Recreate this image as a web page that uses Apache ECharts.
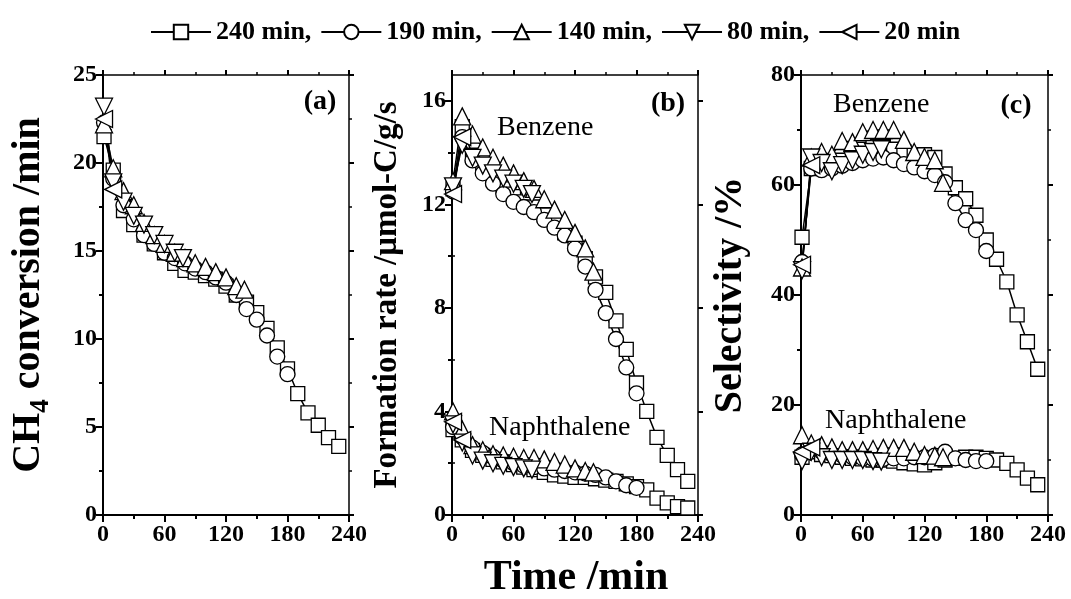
<!DOCTYPE html>
<html>
<head>
<meta charset="utf-8">
<script src="https://cdn.jsdelivr.net/npm/echarts@6/dist/echarts.min.js"></script>
<style>
  html, body { margin: 0; padding: 0; background: #fff; }
  #chart { width: 1071px; height: 599px; }
</style>
</head>
<body>
<div id="chart"></div>
<script>
// Reaction time on stream (min) for each run length
const runNames = ['240 min', '190 min', '140 min', '80 min', '20 min'];
const t240 = [1, 10, 20, 30, 40, 50, 60, 70, 80, 90, 100, 110, 120, 130, 140, 150, 160, 170, 180, 190, 200, 210, 220, 230];
const t190 = [1, 10, 20, 30, 40, 50, 60, 70, 80, 90, 100, 110, 120, 130, 140, 150, 160, 170, 180];
const t140 = [1, 10, 20, 30, 40, 50, 60, 70, 80, 90, 100, 110, 120, 130, 138];
const t80 = [1, 10, 20, 30, 40, 50, 60, 70, 78];
const t20 = [1, 10];

// (a) CH4 conversion
const conv240 = [21.5, 19.6, 17.3, 16.5, 15.9, 15.4, 14.9, 14.3, 13.9, 13.8, 13.6, 13.4, 13.0, 12.5, 12.1, 11.5, 10.6, 9.5, 8.3, 6.9, 5.8, 5.1, 4.4, 3.9];
const conv190 = [22.3, 19.1, 17.6, 16.8, 15.9, 15.4, 14.9, 14.6, 14.3, 14.0, 13.8, 13.5, 13.2, 12.5, 11.7, 11.1, 10.2, 9.0, 8.0];
const conv140 = [22.2, 19.7, 18.4, 17.6, 16.6, 15.9, 15.4, 14.9, 14.6, 14.3, 14.1, 13.8, 13.5, 13.0, 12.8];
const conv80 = [23.2, 18.9, 17.8, 17.0, 16.5, 15.9, 15.4, 14.9, 14.6];
const conv20 = [22.5, 18.5];

// (b) formation rate, benzene
const benz240 = [12.6, 15.0, 13.9, 13.4, 13.0, 12.7, 12.4, 12.1, 11.9, 11.6, 11.3, 10.9, 10.5, 9.9, 9.2, 8.6, 7.5, 6.4, 5.1, 4.0, 3.0, 2.3, 1.75, 1.3];
const benz190 = [12.5, 14.6, 13.7, 13.2, 12.8, 12.4, 12.1, 11.9, 11.7, 11.4, 11.1, 10.8, 10.3, 9.6, 8.7, 7.8, 6.8, 5.7, 4.7];
const benz140 = [12.9, 15.4, 14.7, 14.2, 13.8, 13.5, 13.2, 12.9, 12.6, 12.2, 11.8, 11.4, 10.9, 10.3, 9.4];
const benz80 = [12.7, 14.3, 13.8, 13.5, 13.2, 13.0, 12.8, 12.6, 12.4];
const benz20 = [12.4, 14.6];

// (b) formation rate, naphthalene
const naph240 = [3.3, 2.9, 2.5, 2.3, 2.15, 2.05, 1.95, 1.85, 1.75, 1.65, 1.55, 1.5, 1.45, 1.45, 1.4, 1.35, 1.3, 1.2, 1.1, 0.97, 0.65, 0.47, 0.32, 0.27];
const naph190 = [3.4, 3.0, 2.6, 2.4, 2.25, 2.1, 2.0, 1.9, 1.85, 1.8, 1.75, 1.7, 1.65, 1.6, 1.55, 1.45, 1.3, 1.15, 1.05];
const naph140 = [4.0, 3.3, 2.7, 2.5, 2.35, 2.3, 2.25, 2.2, 2.2, 2.15, 2.05, 1.95, 1.8, 1.7, 1.65];
const naph80 = [3.5, 2.8, 2.3, 2.1, 2.0, 1.9, 1.85, 1.8, 1.75];
const naph20 = [3.6, 2.9];

// (c) selectivity, benzene
const selB240 = [50.5, 63, 63.5, 64, 64.5, 65, 66.5, 67, 67, 66.5, 66, 65.5, 65.5, 65, 62, 59.5, 57.5, 54.5, 50, 46.5, 42.4, 36.4, 31.5, 26.5];
const selB190 = [46, 63, 62.7, 63, 63.5, 64, 64.5, 64.8, 65, 64.5, 63.8, 63.2, 62.5, 61.8, 60.5, 56.7, 53.6, 51.8, 48];
const selB140 = [45, 65, 66, 65.5, 68, 67.8, 69.6, 70, 70, 70, 68.2, 66, 65.1, 64.5, 60.4];
const selB80 = [44.5, 65, 64, 62.5, 63.6, 64.5, 65.5, 66, 66.5];
const selB20 = [45.5, 63.6];

// (c) selectivity, naphthalene
const selN240 = [10.5, 11.5, 11, 10.8, 10.5, 10.3, 10.2, 10, 10, 9.8, 9.5, 9.3, 9.1, 9.5, 10, 10.3, 10.5, 10.5, 10.3, 10, 9.4, 8.2, 6.7, 5.5];
const selN190 = [11, 12, 11.5, 11, 10.8, 10.5, 10.3, 10.2, 10.2, 10.3, 10.3, 10.5, 10.5, 10.8, 11.5, 10.3, 10, 9.8, 9.8];
const selN140 = [14.5, 13, 12.7, 12.3, 11.8, 11.8, 11.8, 12, 12.2, 12.2, 12.2, 11.5, 10.9, 10.8, 10.5];
const selN80 = [9.8, 11.5, 10.5, 10, 10, 10, 10, 9.8, 9.7];
const selN20 = [11.5, 12.3];

// Axis ticks
const xTicks = [0, 60, 120, 180, 240];
const yTicksA = [0, 5, 10, 15, 20, 25];
const yTicksB = [0, 4, 8, 12, 16];
const yMinorB = [2, 6, 10, 14];
const yTicksC = [0, 20, 40, 60, 80];

const FONT = '"Liberation Serif", "Times New Roman", serif';
const times = [t240, t190, t140, t80, t20];
const markers = [
  { symbol: 'rect', size: 14, rotate: 0 },
  { symbol: 'circle', size: 15, rotate: 0 },
  { symbol: 'triangle', size: 17, rotate: 0 },
  { symbol: 'triangle', size: 17, rotate: 180 },
  { symbol: 'triangle', size: 17, rotate: 90 }
];

const grids = [
  { left: 103, top: 75, width: 246, height: 440 },
  { left: 452, top: 75, width: 246, height: 440 },
  { left: 801, top: 75, width: 247, height: 440 }
];

const black = '#000';
function tickStyle(len) {
  return { show: true, inside: false, length: len, lineStyle: { color: black, width: 2 } };
}

const xAxis = [];
const yAxis = [];
grids.forEach((g, i) => {
  xAxis.push({
    type: 'value', gridIndex: i, min: 0, max: 240, interval: 60, position: 'bottom',
    axisLine: { show: true, onZero: false, lineStyle: { color: black, width: 2 } },
    axisTick: tickStyle(7),
    minorTick: { show: true, splitNumber: 2, length: 4, lineStyle: { color: black, width: 2 } },
    axisLabel: { color: black, fontFamily: FONT, fontWeight: 'bold', fontSize: 24, margin: 8,
      customValues: xTicks },
    splitLine: { show: false }
  });
  xAxis.push({
    type: 'value', gridIndex: i, min: 0, max: 240, interval: 60, position: 'top',
    axisLine: { show: true, onZero: false, lineStyle: { color: black, width: 1.5 } },
    axisTick: tickStyle(5),
    minorTick: { show: true, splitNumber: 2, length: 3, lineStyle: { color: black, width: 1.5 } },
    axisLabel: { show: false },
    splitLine: { show: false }
  });
});

function yPair(gridIndex, max, interval, ticks, name, nameGap, nameSize, nameRich) {
  const label = { color: black, fontFamily: FONT, fontWeight: 'bold', fontSize: 24, margin: 6, customValues: ticks };
  const main = {
    type: 'value', gridIndex, min: 0, max, interval, position: 'left',
    axisLine: { show: true, onZero: false, lineStyle: { color: black, width: 2 } },
    axisTick: Object.assign(tickStyle(7), { customValues: ticks }),
    minorTick: { show: max % interval === 0, splitNumber: 2, length: 4, lineStyle: { color: black, width: 2 } },
    axisLabel: label,
    splitLine: { show: false },
    name, nameLocation: 'middle', nameGap, nameRotate: 90,
    nameTextStyle: { color: black, fontFamily: FONT, fontWeight: 'bold', fontSize: nameSize, rich: nameRich }
  };
  const mirror = {
    type: 'value', gridIndex, min: 0, max, interval, position: 'right',
    axisLine: { show: true, onZero: false, lineStyle: { color: black, width: 1.5 } },
    axisTick: Object.assign(tickStyle(5), { customValues: ticks }),
    minorTick: { show: max % interval === 0, splitNumber: 2, length: 3, lineStyle: { color: black, width: 1.5 } },
    axisLabel: { show: false },
    splitLine: { show: false }
  };
  return [main, mirror];
}

const subRich = {
  sub: { fontFamily: FONT, fontWeight: 'bold', fontSize: 27, color: black, verticalAlign: 'bottom', lineHeight: 52 }
};
yAxis.push(...yPair(0, 25, 5, yTicksA, 'CH{sub|4} conversion /min', 48, 40, subRich));
yAxis.push(...yPair(1, 17, 4, yTicksB, 'Formation rate /\u03bcmol-C/g/s', 48, 33, {}));
yAxis.push(...yPair(2, 80, 20, yTicksC, 'Selectivity /%', 50, 40, {}));
// minor ticks for panel (b), whose top (17) is not a multiple of the label step
[['left', 4, 2], ['right', 3, 1.5]].forEach(([pos, len, w]) => {
  yAxis.push({
    type: 'value', gridIndex: 1, min: 0, max: 17, interval: 2, position: pos,
    axisLine: { show: false },
    axisTick: { show: true, inside: false, length: len, customValues: yMinorB, lineStyle: { color: black, width: w } },
    axisLabel: { show: false },
    splitLine: { show: false }
  });
});

// x axis indices: grid i -> 2*i ; y axis indices: grid i -> 2*i
const panels = [
  { grid: 0, sets: [[conv240, conv190, conv140, conv80, conv20]] },
  { grid: 1, sets: [[benz240, benz190, benz140, benz80, benz20], [naph240, naph190, naph140, naph80, naph20]] },
  { grid: 2, sets: [[selB240, selB190, selB140, selB80, selB20], [selN240, selN190, selN140, selN80, selN20]] }
];

const series = [];
panels.forEach(p => {
  p.sets.forEach(set => {
    set.forEach((vals, k) => {
      const m = markers[k];
      series.push({
        type: 'line',
        name: runNames[k],
        xAxisIndex: p.grid * 2,
        yAxisIndex: p.grid * 2,
        data: vals.map((v, j) => [times[k][j], v]),
        symbol: m.symbol,
        symbolSize: m.size,
        symbolRotate: m.rotate,
        showAllSymbol: true,
        lineStyle: { color: black, width: 1.5 },
        itemStyle: { color: '#fff', borderColor: black, borderWidth: 1.3 },
        emphasis: { disabled: true },
        animation: false
      });
    });
  });
});

function label(text, x, y, size, weight, align) {
  return {
    type: 'text', x, y, silent: true,
    style: { text, fill: black, font: `${weight} ${size}px ${FONT}`, align: align || 'left', verticalAlign: 'middle' }
  };
}

const chart = echarts.init(document.getElementById('chart'), null, { renderer: 'canvas' });
chart.setOption({
  backgroundColor: '#fff',
  animation: false,
  grid: grids.map(g => Object.assign({ containLabel: false, outerBoundsMode: 'none' }, g)),
  legend: {
    data: runNames,
    left: 145, top: 14,
    itemWidth: 60, itemHeight: 18, itemGap: 9,
    selectedMode: false,
    formatter: n => (n === runNames[runNames.length - 1] ? n : n + ','),
    textStyle: { color: black, fontFamily: FONT, fontWeight: 'bold', fontSize: 26 }
  },
  xAxis, yAxis, series,
  graphic: [
    label('(a)', 320, 102, 28, 'bold', 'center'),
    label('(b)', 668, 104, 28, 'bold', 'center'),
    label('(c)', 1016, 106, 28, 'bold', 'center'),
    label('Benzene', 497, 128, 28, 'normal'),
    label('Naphthalene', 489, 428, 28, 'normal'),
    label('Benzene', 833, 105, 28, 'normal'),
    label('Naphthalene', 825, 421, 28, 'normal'),
    label('Time /min', 576, 578, 42, 'bold', 'center')
  ]
});
</script>
</body>
</html>
